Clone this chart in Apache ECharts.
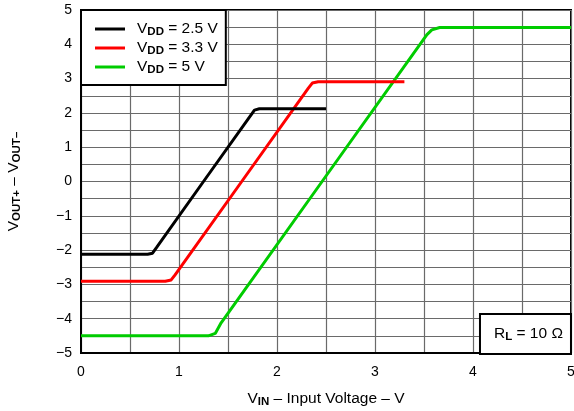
<!DOCTYPE html>
<html><head><meta charset="utf-8">
<script src="https://cdn.jsdelivr.net/npm/echarts/dist/echarts.min.js"></script>
<style>html,body{margin:0;padding:0;background:#fff}#c{width:574px;height:411px}</style>
</head><body><div id="c"></div>
<script>
// Supply voltages (legend labels)
const vddLabels = ['2.5', '3.3', '5'];
// VOUT+ - VOUT- vs VIN
const vdd25 = [[0,-2.12],[0.68,-2.12],[0.73,-2.09],[0.77,-1.93],[1.25,0],[1.73,1.92],[1.77,2.08],[1.82,2.12],[2.5,2.12]];
const vdd33 = [[0,-2.91],[0.86,-2.91],[0.92,-2.87],[0.96,-2.72],[1.64,0],[2.32,2.72],[2.36,2.87],[2.42,2.91],[3.3,2.91]];
const vdd5  = [[0,-4.5],[1.30,-4.5],[1.37,-4.43],[1.43,-4.12],[2.46,0],[3.53,4.28],[3.58,4.42],[3.66,4.49],[5,4.49]];
const xTickLabels = ['0','1','2','3','4','5'];
const yTickLabels = ['\u22125','\u22124','\u22123','\u22122','\u22121','0','1','2','3','4','5'];
const rlLabel = '10 \u03A9';

const FONT = '"Liberation Sans", Arial, sans-serif';
const richBig = {
  v: {fontSize: 15.5, fontFamily: FONT, fontWeight: 'normal', color: '#000'},
  s: {fontSize: 11.5, fontFamily: FONT, fontWeight: 'bold', color: '#000', padding: [6, 0, 0, 0]}
};
const chart = echarts.init(document.getElementById('c'), null, {renderer: 'canvas'});
const colors = ['#000000', '#ff0000', '#00cc00'];
const dataSets = [vdd25, vdd33, vdd5];
chart.setOption({
  animation: false,
  backgroundColor: '#fff',
  grid: {left: 81, right: 3, top: 10, bottom: 58, show: true, borderColor: '#000', borderWidth: 2, outerBoundsMode: 'none'},
  xAxis: {
    type: 'value', min: 0, max: 5, interval: 0.5,
    axisLine: {show: true, onZero: false, lineStyle: {color: '#000', width: 2}},
    axisTick: {show: false},
    splitLine: {show: true, lineStyle: {color: '#6a6a6a', width: 1.2}},
    axisLabel: {margin: 12, fontSize: 14, fontFamily: FONT, color: '#000',
      formatter: v => Number.isInteger(v) ? xTickLabels[v] : ''},
    name: '{v|V}{s|IN}{v| \u2013 Input Voltage \u2013 V}',
    nameLocation: 'middle', nameGap: 37,
    nameTextStyle: {rich: richBig}
  },
  yAxis: {
    type: 'value', min: -5, max: 5, interval: 0.5,
    axisLine: {show: true, onZero: false, lineStyle: {color: '#000', width: 2}},
    axisTick: {show: false},
    splitLine: {show: true, lineStyle: {color: '#6a6a6a', width: 1.2}},
    axisLabel: {margin: 9, fontSize: 14, fontFamily: FONT, color: '#000',
      formatter: v => Number.isInteger(v) ? yTickLabels[v + 5] : ''},
    name: '{v|V}{s|OUT+}{v| \u2013 V}{s|OUT\u2013}',
    nameLocation: 'middle', nameGap: 58, nameRotate: 90,
    nameTextStyle: {rich: richBig}
  },
  legend: {
    orient: 'vertical', left: 81, top: 10,
    backgroundColor: '#fff', borderColor: '#000', borderWidth: 2,
    padding: [11, 8, 9, 14], itemGap: 2,
    icon: 'rect', itemWidth: 30, itemHeight: 3,
    formatter: name => '{v|V}{s|DD}{v| = ' + name + ' V}',
    textStyle: {rich: richBig, padding: [0, 0, 0, 7]},
    selectedMode: false
  },
  title: {
    text: '{v|R}{s|L}{v| = ' + rlLabel + '}',
    right: 3, bottom: 58,
    backgroundColor: '#fff', borderColor: '#000', borderWidth: 2,
    padding: [12, 8, 11, 14],
    textStyle: {fontWeight: 'normal', rich: richBig}
  },
  series: vddLabels.map((n, i) => ({
    name: n, type: 'line', data: dataSets[i], showSymbol: false,
    color: colors[i], lineStyle: {color: colors[i], width: 3}, z: 3 - i
  }))
});
</script></body></html>
